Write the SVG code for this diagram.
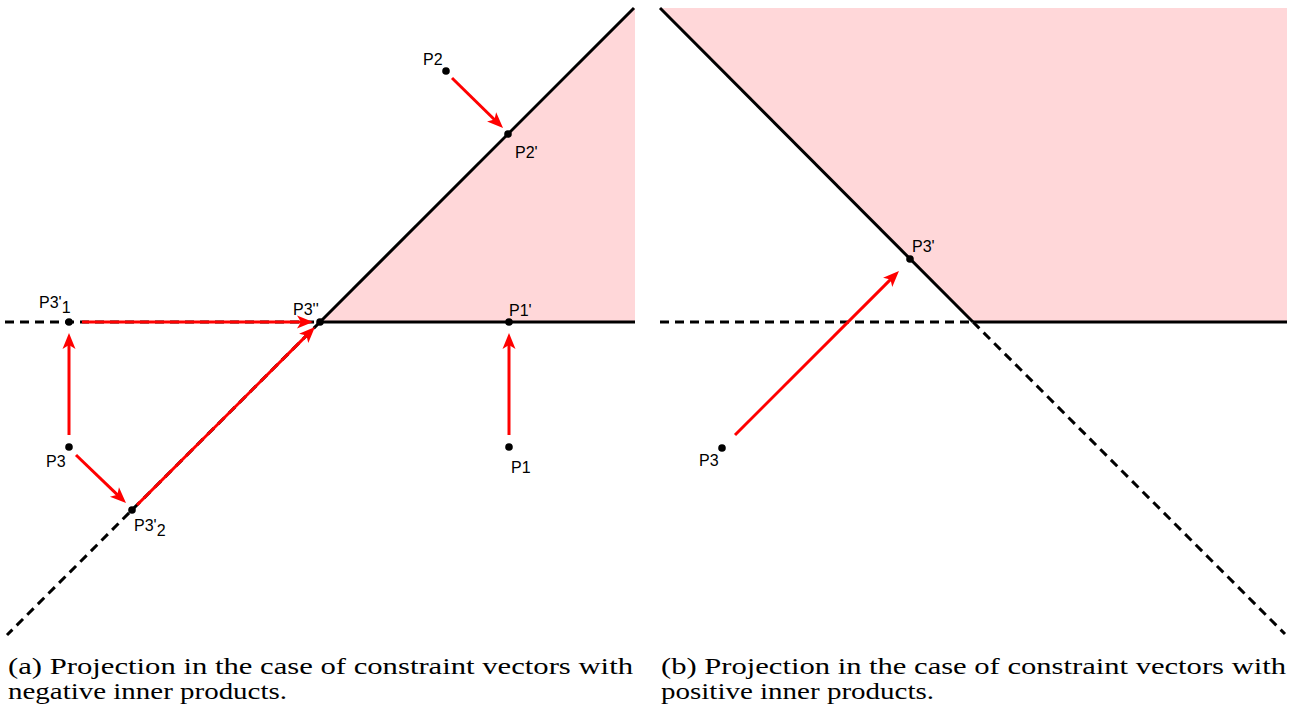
<svg xmlns="http://www.w3.org/2000/svg" width="1301" height="713" viewBox="0 0 1301 713">
<style>
.solid{stroke:#000;stroke-width:3;fill:none}
.dash{stroke:#000;stroke-width:3;fill:none;stroke-dasharray:9 6}
.arr{stroke:#ff0000;stroke-width:3;fill:none;marker-end:url(#ah)}
.dot{fill:#000}
.lbl{font-family:"Liberation Sans",Arial,sans-serif;font-size:16px;fill:#000}
.cap{font-family:'Liberation Serif',serif;font-size:24px;fill:#000}
.pink{fill:#ffd7d9}
</style>
<defs>
<marker id="ah" markerUnits="userSpaceOnUse" viewBox="-7 -8 19 16" markerWidth="19" markerHeight="16" refX="0" refY="0" orient="auto">
<path d="M10,0 L-6,-6.5 L-2,0 L-6,6.5 Z" fill="#ff0000"/>
</marker>
</defs>
<g id="regions">
<polygon class="pink" points="320,322 634,8 635,8 635,322"/>
<polygon class="pink" points="660,8 1287,8 1287,322 973,322"/>
</g>
<g id="constraints">
<line class="solid" x1="320" y1="322" x2="634" y2="8"/>
<line class="solid" x1="320" y1="322" x2="635" y2="322"/>
<line class="dash" x1="5" y1="322" x2="320" y2="322"/>
<line class="dash" x1="320" y1="322" x2="7" y2="635"/>
<line class="solid" x1="660" y1="8" x2="973" y2="322"/>
<line class="solid" x1="973" y1="322" x2="1287" y2="322"/>
<line class="dash" x1="660" y1="322" x2="973" y2="322"/>
<line class="dash" x1="973" y1="322" x2="1285" y2="634"/>
</g>
<g id="connectors">
<line class="arr" x1="452" y1="78" x2="495.9" y2="121"/>
<line class="arr" x1="509" y1="435" x2="509" y2="343"/>
<line class="arr" x1="69" y1="435" x2="69" y2="343"/>
<line class="arr" x1="82" y1="322" x2="303" y2="322"/>
<line class="arr" x1="76" y1="455" x2="118.8" y2="496.1"/>
<line class="arr" x1="137" y1="505" x2="307.9" y2="334.1"/>
<line class="arr" x1="735" y1="435" x2="891.9" y2="278.1"/>
</g>
<g id="P2"><circle class="dot" cx="446" cy="71" r="3.8"/><text class="lbl" x="423" y="65">P2</text></g>
<g id="P2p"><circle class="dot" cx="508" cy="134" r="3.8"/><text class="lbl" x="515" y="158">P2'</text></g>
<g id="P1p"><circle class="dot" cx="509" cy="322" r="3.8"/><text class="lbl" x="509" y="316">P1'</text></g>
<g id="P1"><circle class="dot" cx="509" cy="447" r="3.8"/><text class="lbl" x="511" y="473">P1</text></g>
<g id="P3p1"><circle class="dot" cx="69" cy="322" r="3.8"/><text class="lbl" x="39" y="308">P3'<tspan dy="5">1</tspan></text></g>
<g id="P3a"><circle class="dot" cx="69" cy="447" r="3.8"/><text class="lbl" x="46" y="467">P3</text></g>
<g id="P3p2"><circle class="dot" cx="132" cy="510" r="3.8"/><text class="lbl" x="134" y="531">P3'<tspan dy="5">2</tspan></text></g>
<g id="P3pp"><circle class="dot" cx="320" cy="322" r="3.8"/><text class="lbl" x="293" y="315">P3''</text></g>
<g id="P3pb"><circle class="dot" cx="910" cy="259" r="3.8"/><text class="lbl" x="912" y="252">P3'</text></g>
<g id="P3b"><circle class="dot" cx="722" cy="448" r="3.8"/><text class="lbl" x="699" y="466">P3</text></g>
<g id="captions">
<text class="cap" x="8" y="674" textLength="625" lengthAdjust="spacingAndGlyphs">(a) Projection in the case of constraint vectors with</text>
<text class="cap" x="8" y="699" textLength="279" lengthAdjust="spacingAndGlyphs">negative inner products.</text>
<text class="cap" x="661" y="674" textLength="625" lengthAdjust="spacingAndGlyphs">(b) Projection in the case of constraint vectors with</text>
<text class="cap" x="661" y="699" textLength="273" lengthAdjust="spacingAndGlyphs">positive inner products.</text>
</g>
</svg>
